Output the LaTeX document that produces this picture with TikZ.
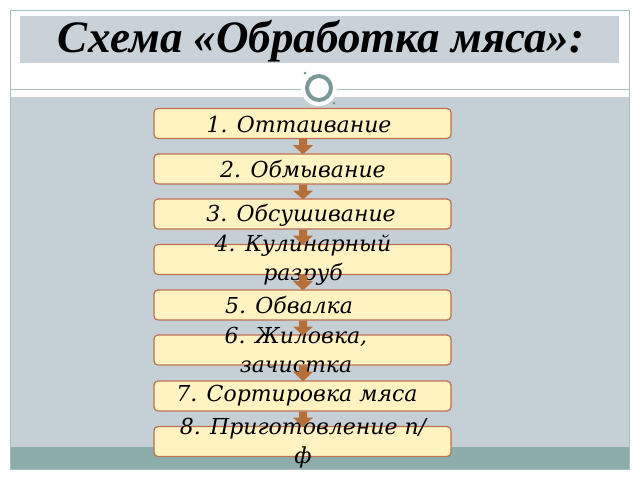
\documentclass[tikz,border=0pt]{standalone}
\usepackage{fontspec}
\setmainfont{DejaVu Serif}
\newfontfamily\titlefont{Liberation Serif}
\usetikzlibrary{calc}
\definecolor{framec}{HTML}{A9BEC0}
\definecolor{bandc}{HTML}{C8D2D8}
\definecolor{bodyc}{HTML}{C5D0D6}
\definecolor{tealc}{HTML}{8CADAB}
\definecolor{ringc}{HTML}{7A9898}
\definecolor{boxfill}{HTML}{FFF3C2}
\definecolor{boxline}{HTML}{BF6E52}
\definecolor{arrowc}{HTML}{B5703A}
\tikzset{
  stepbox/.style={draw=boxline, line width=1.2pt, fill=boxfill, rounded corners=4pt,
    minimum width=297pt, minimum height=30pt, inner sep=0pt},
  steptext/.style={align=center, font=\fontsize{22}{29}\selectfont\itshape, inner sep=0pt},
  flowarrow/.style={fill=arrowc}
}
\begin{document}
\begin{tikzpicture}[x=1pt,y=-1pt]
\useasboundingbox (0,0) rectangle (640,480);
\fill[white] (0,0) rectangle (640,480);
% body areas
\fill[bodyc] (10,97) rectangle (629,447);
\fill[tealc] (10,447) rectangle (629,469);
\draw[framec, line width=1pt] (10,10) rectangle (629,469);
\draw[framec, line width=1pt] (10,89) -- (629,89);
% title band
\fill[bandc] (20,16) rectangle (619,63);
\node[font=\titlefont\fontsize{45}{47}\selectfont\bfseries\itshape, inner sep=0pt] (title) at (321,41) {Схема «Обработка мяса»:};
% ornament
\fill[white] (319,88) circle (18);
\draw[ringc, line width=4pt] (319,88) circle (12);
\fill[ringc] (305,73) circle (1.5);
\fill[ringc] (334,103) circle (1.5);
% boxes
\foreach \i/\y in {1/123.5,2/169,3/214,4/259.5,5/305,6/350,7/396,8/441.5}{
  \node[stepbox] (b\i) at (302.5,\y) {};
}
\node[steptext] (t1) at (299,124) {1. Оттаивание};
\node[steptext] (t2) at (303,169) {2. Обмывание};
\node[steptext] (t3) at (301,215) {3. Обсушивание};
\node[steptext] (t4) at (303,260) {4. Кулинарный\\разруб};
\node[steptext] (t5) at (289,305) {5. Обвалка};
\node[steptext] (t6) at (296,350) {6. Жиловка,\\зачистка};
\node[steptext] (t7) at (297,396) {7. Сортировка мяса};
\node[steptext] (t8) at (303,443) {8. Приготовление п/\\ф};
% arrows
\foreach \a/\b in {1/2,2/3,3/4,4/5,5/6,6/7,7/8}{
  \fill[flowarrow] ($(b\a.south)+(-3.5,0)$) -- ($(b\a.south)+(4.5,0)$) -- ($(b\a.south)+(4.5,6)$)
    -- ($(b\a.south)+(10.5,6)$) -- ($(b\b.north)+(0.5,1)$) -- ($(b\a.south)+(-9.5,6)$)
    -- ($(b\a.south)+(-3.5,6)$) -- cycle;
}
\end{tikzpicture}
\end{document}
